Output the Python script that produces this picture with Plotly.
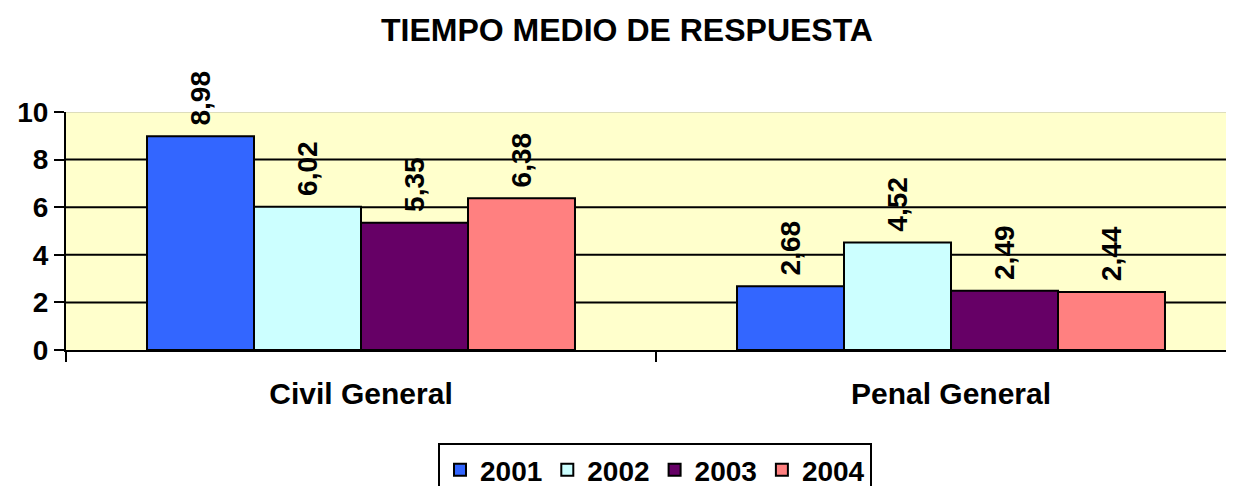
import plotly.graph_objects as go

categories = ["Civil General", "Penal General"]
years = ["2001", "2002", "2003", "2004"]
values_2001 = [8.98, 2.68]
values_2002 = [6.02, 4.52]
values_2003 = [5.35, 2.49]
values_2004 = [6.38, 2.44]
series = [values_2001, values_2002, values_2003, values_2004]
colors = ["#3366FF", "#CCFFFF", "#660066", "#FF8080"]
y_ticks = [0, 2, 4, 6, 8, 10]
grid_levels = [2, 4, 6, 8]

FONT = "Liberation Sans, Arial, sans-serif"

def bold(size):
    return dict(family=FONT, size=size, color="black", weight="bold")

W, H = 1250, 478
L, T, B = 58, 104, 136
CAT_PX = 590.0
plot_w = W - L

fig = go.Figure()
for name, vals, col in zip(years, series, colors):
    fig.add_trace(go.Bar(
        name=name, x=categories, y=vals,
        marker=dict(color=col, line=dict(color="black", width=2)),
        text=["\u00a0" + f"{v:.2f}".replace(".", ",") for v in vals],
        textposition="outside", textangle=-90,
        textfont=bold(28),
        cliponaxis=False,
    ))

shapes = [dict(type="line", xref="paper", yref="y", x0=0, x1=1, y0=g, y1=g,
               line=dict(color="black", width=2), layer="below") for g in grid_levels]
shapes.append(dict(type="line", xref="paper", yref="y", x0=0, x1=1, y0=10, y1=10,
                   line=dict(color="#BBBBAA", width=1), layer="below"))

fig.update_layout(
    width=W, height=H,
    margin=dict(l=L, r=0, t=T, b=B, autoexpand=False),
    paper_bgcolor="white", plot_bgcolor="#FFFFCC",
    barmode="group", bargap=0.2746, bargroupgap=0,
    font=bold(28),
    title=dict(text="TIEMPO MEDIO DE RESPUESTA", x=619 / W, xanchor="center",
               y=0.954, yanchor="middle", font=bold(32)),
    xaxis=dict(range=[-0.5, -0.5 + plot_w / CAT_PX], showgrid=False, showline=True,
               linecolor="black", linewidth=2, ticks="outside", tickson="boundaries",
               ticklen=10, tickwidth=2, tickcolor="black", ticklabelstandoff=16,
               tickfont=bold(30)),
    yaxis=dict(range=[0, 10], tickvals=y_ticks, showgrid=False, zeroline=False,
               showline=True, linecolor="black", linewidth=2, ticks="outside",
               ticklen=10, tickwidth=2, tickcolor="black",
               tickfont=bold(28)),
    legend=dict(orientation="h", x=(647 - L) / plot_w, xanchor="center", y=-0.391,
                yanchor="top", bordercolor="black", borderwidth=2, bgcolor="white",
                font=bold(28), itemwidth=30, traceorder="normal"),
    shapes=shapes,
)

fig.write_html("out.html")
